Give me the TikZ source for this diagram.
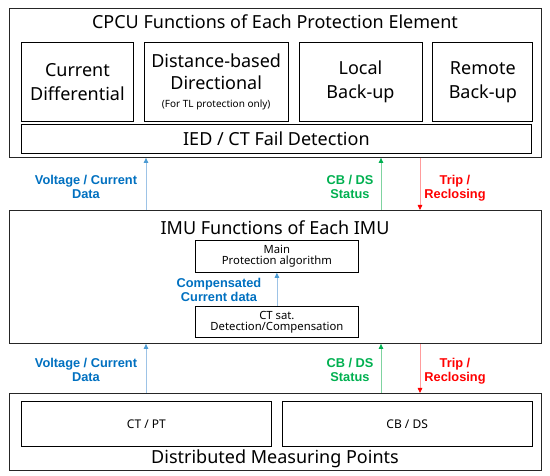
\documentclass[tikz,border=0pt]{standalone}
\usepackage{fontspec}
\setmainfont{Noto Sans}
\newfontfamily\sigfont{Liberation Sans}
\usepackage{xcolor}
\usetikzlibrary{positioning,arrows.meta}

\definecolor{sigblue}{HTML}{0070C0}
\definecolor{siggreen}{HTML}{00B050}
\definecolor{sigred}{HTML}{FF0000}
\definecolor{lineblue}{HTML}{9DC3E6}
\definecolor{linegreen}{HTML}{7FD3A0}
\definecolor{linered}{HTML}{FF9C9C}

\begin{document}
\begin{tikzpicture}[x=1pt, y=-1pt,
    frame/.style={rectangle, draw=black!85, line width=0.9pt, anchor=north west, inner sep=0pt},
    box/.style={rectangle, draw=black, line width=0.8pt, anchor=north west, inner sep=0pt, align=center},
    big/.style={font=\fontsize{18}{21}\selectfont},
    small/.style={font=\fontsize{11.3}{14}\selectfont},
    sig/.style={font=\sigfont\bfseries\fontsize{12.8}{15}\selectfont, align=center},
    bluearr/.style={draw=lineblue, line width=0.8pt, -{Triangle[length=5pt, width=4.5pt, color=sigblue!70]}},
    greenarr/.style={draw=linegreen, line width=0.8pt, -{Triangle[length=5pt, width=4.5pt, color=siggreen]}},
    redarr/.style={draw=linered, line width=0.8pt, -{Triangle[length=5pt, width=4.5pt, color=sigred]}}
]
\useasboundingbox (0,0) rectangle (550,476);

% CPCU level
\node[frame, minimum width=532pt, minimum height=149pt] (cpcu) at (9,8) {};
\node[big] at (275,22) {CPCU Functions of Each Protection Element};
\node[box, big, minimum width=112pt, minimum height=79pt] (diff) at (21,42) {Current\\[3pt]Differential};
\node[box, big, minimum width=144pt, minimum height=79pt, right=10pt of diff.north east, anchor=north west] (dist) {Distance-based\\[1pt]Directional\\[-3pt]\fontsize{10}{12}\selectfont (For TL protection only)};
\node[box, big, minimum width=123pt, minimum height=79pt, right=10pt of dist.north east, anchor=north west] (local) {Local\\[3pt]Back-up};
\node[box, big, minimum width=100pt, minimum height=79pt, right=10pt of local.north east, anchor=north west] (remote) {Remote\\[3pt]Back-up};
\node[box, big, minimum width=510pt, minimum height=29pt] (ied) at (21,124) {IED / CT Fail Detection};

% IMU level
\node[frame, minimum width=532pt, minimum height=133pt] (imu) at (9,210) {};
\node[big] at (275,228) {IMU Functions of Each IMU};
\node[box, small, minimum width=163pt, minimum height=32pt] (main) at (195,240) {Main\\[-3pt]Protection algorithm};
\node[box, small, minimum width=163pt, minimum height=31pt] (ctsat) at (195,306) {CT sat.\\[-3pt]Detection/Compensation};
\draw[bluearr] (ctsat.north) -- (main.south);
\node[sig, text=sigblue] at (219,290) {Compensated\\[-1pt]Current data};

% Measuring points
\node[frame, minimum width=532pt, minimum height=77pt] (dmp) at (9,393) {};
\node[box, font=\fontsize{12}{14}\selectfont, minimum width=250pt, minimum height=45pt] (ctpt) at (21,401) {CT / PT};
\node[box, font=\fontsize{12}{14}\selectfont, minimum width=250pt, minimum height=45pt, right=10pt of ctpt.north east, anchor=north west] (cbds) {CB / DS};
\node[big] at (275,459) {Distributed Measuring Points};

% signal columns
\coordinate (xv) at (146,0);
\coordinate (xs) at (381,0);
\coordinate (xt) at (420,0);

\draw[bluearr] (imu.north -| xv) -- (cpcu.south -| xv);
\draw[greenarr] (imu.north -| xs) -- (cpcu.south -| xs);
\draw[redarr] (cpcu.south -| xt) -- (imu.north -| xt);
\node[sig, text=sigblue] at (86,187) {Voltage / Current\\[-1pt]Data};
\node[sig, text=siggreen] at (350,187) {CB / DS\\[-1pt]Status};
\node[sig, text=sigred] at (455,188) {Trip /\\[-1pt]Reclosing};

\draw[bluearr] (dmp.north -| xv) -- (imu.south -| xv);
\draw[greenarr] (dmp.north -| xs) -- (imu.south -| xs);
\draw[redarr] (imu.south -| xt) -- (dmp.north -| xt);
\node[sig, text=sigblue] at (86,370) {Voltage / Current\\[-1pt]Data};
\node[sig, text=siggreen] at (350,370) {CB / DS\\[-1pt]Status};
\node[sig, text=sigred] at (455,371) {Trip /\\[-1pt]Reclosing};

\end{tikzpicture}
\end{document}
